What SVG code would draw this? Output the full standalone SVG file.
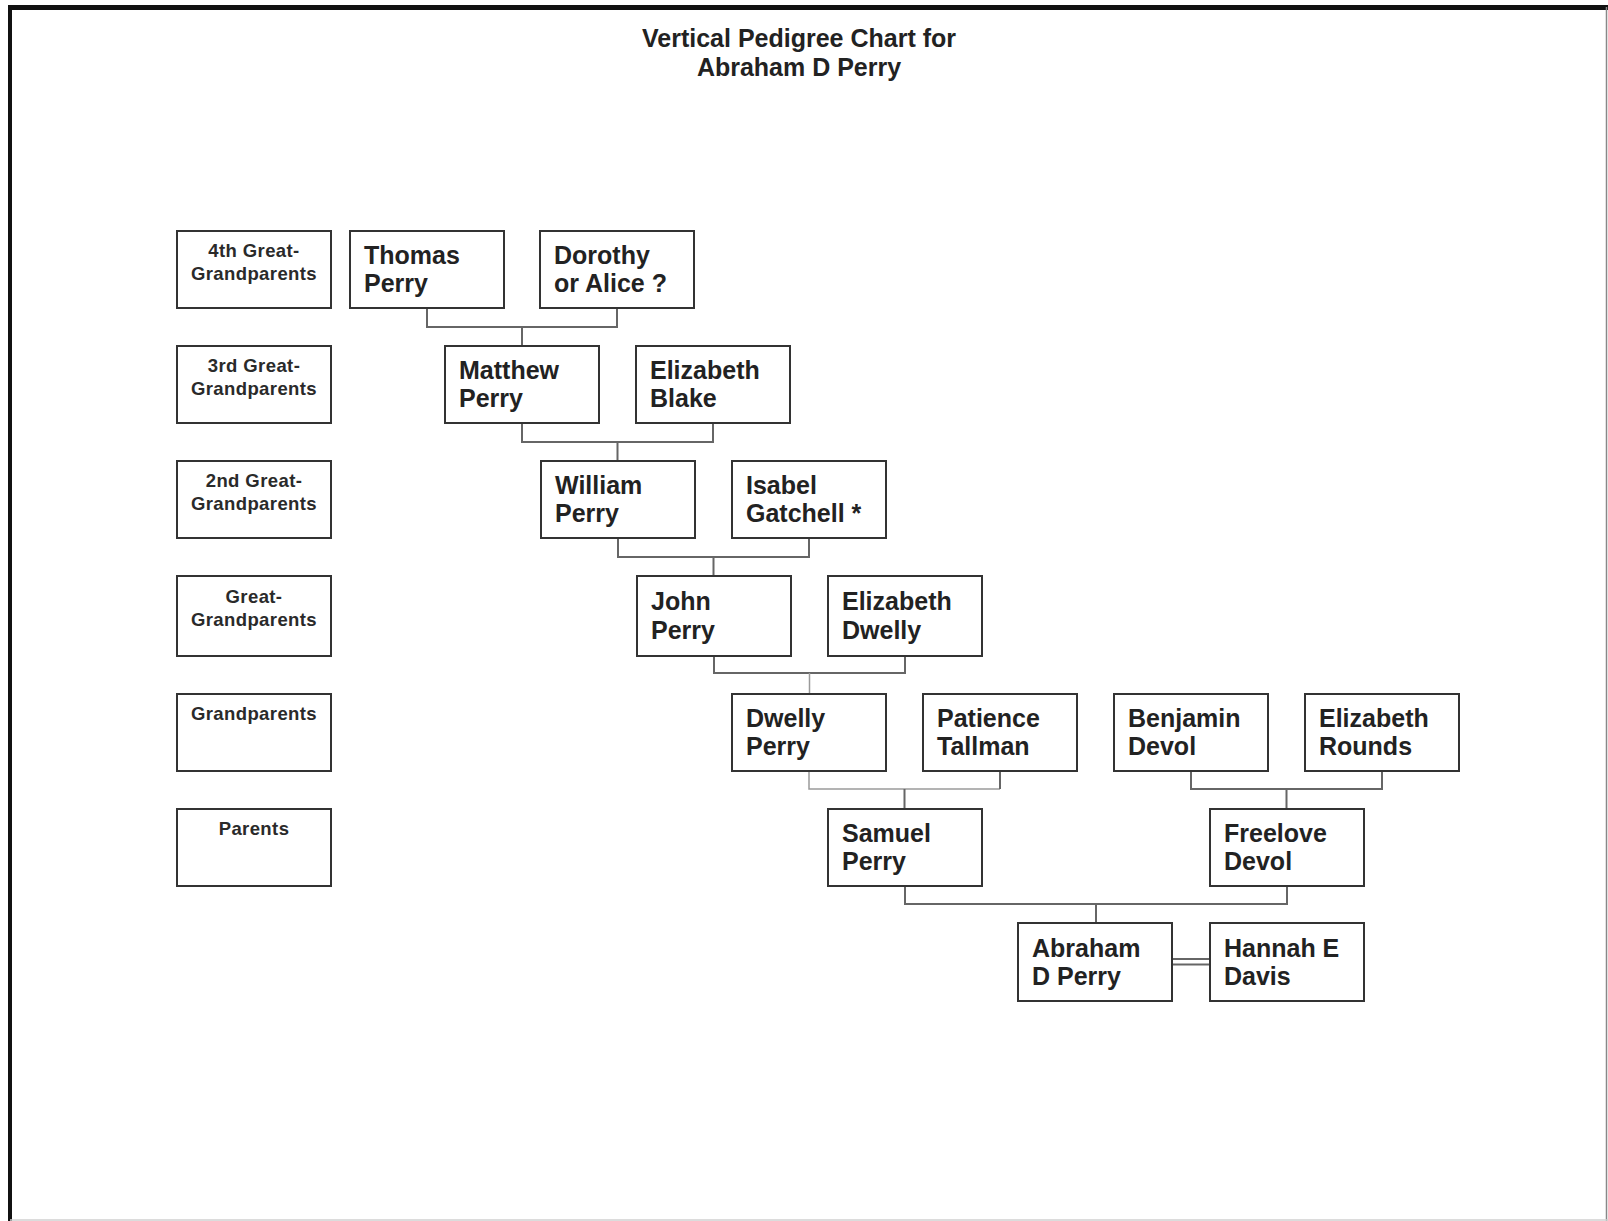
<svg xmlns="http://www.w3.org/2000/svg" width="1608" height="1221" viewBox="0 0 1608 1221">
<style>
  .box { fill: #ffffff; stroke: #333333; stroke-width: 2; }
  .lbl { font-family: "Liberation Sans", Arial, sans-serif; font-weight: bold; font-size: 18.5px; fill: #2a2a2a; text-anchor: middle; letter-spacing: 0.4px; }
  .nm { font-family: "Liberation Sans", Arial, sans-serif; font-weight: bold; font-size: 25px; fill: #222222; }
  .ttl { font-family: "Liberation Sans", Arial, sans-serif; font-weight: bold; font-size: 25px; fill: #222222; text-anchor: middle; }
  .con { fill: none; stroke: #666666; stroke-width: 2; }
  .conl { fill: none; stroke: #9a9a9a; stroke-width: 1.5; }
</style>
<rect x="0" y="0" width="1608" height="1221" fill="#ffffff"/>
<g id="frame">
  <line x1="8" y1="7.5" x2="1608" y2="7.5" stroke="#111111" stroke-width="5"/>
  <line x1="10" y1="5" x2="10" y2="1221" stroke="#111111" stroke-width="4"/>
  <line x1="1606.5" y1="7" x2="1606.5" y2="1221" stroke="#888888" stroke-width="1.5"/>
  <line x1="10" y1="1220" x2="1608" y2="1220" stroke="#d0d0d0" stroke-width="1.5"/>
</g>
<g id="title">
  <text class="ttl" x="799" y="47">Vertical Pedigree Chart for</text>
  <text class="ttl" x="799" y="76">Abraham D Perry</text>
</g>
<g id="generation-labels">
  <g id="label-4th">
    <rect class="box" x="177" y="231" width="154" height="77"/>
    <text class="lbl" x="254" y="257">4th Great-</text>
    <text class="lbl" x="254" y="280">Grandparents</text>
  </g>
  <g id="label-3rd">
    <rect class="box" x="177" y="346" width="154" height="77"/>
    <text class="lbl" x="254" y="372">3rd Great-</text>
    <text class="lbl" x="254" y="395">Grandparents</text>
  </g>
  <g id="label-2nd">
    <rect class="box" x="177" y="461" width="154" height="77"/>
    <text class="lbl" x="254" y="487">2nd Great-</text>
    <text class="lbl" x="254" y="510">Grandparents</text>
  </g>
  <g id="label-great">
    <rect class="box" x="177" y="576" width="154" height="80"/>
    <text class="lbl" x="254" y="603">Great-</text>
    <text class="lbl" x="254" y="626">Grandparents</text>
  </g>
  <g id="label-grand">
    <rect class="box" x="177" y="694" width="154" height="77"/>
    <text class="lbl" x="254" y="720">Grandparents</text>
  </g>
  <g id="label-parents">
    <rect class="box" x="177" y="809" width="154" height="77"/>
    <text class="lbl" x="254" y="835">Parents</text>
  </g>
</g>
<g id="connectors">
  <path class="con" d="M427 308 V327 H617 V308 M522 327 V346"/>
  <path class="con" d="M522 423 V442 H713 V423 M617.5 442 V461"/>
  <path class="con" d="M618 538 V557 H809 V538 M713.5 557 V576"/>
  <path class="con" d="M714 656 V673 H905 V656"/>
  <path class="conl" d="M809.5 673 V694"/>
  <path class="conl" d="M809 771 V789 H1000"/>
  <path class="con" d="M1000 771 V789 M904.5 789 V809"/>
  <path class="con" d="M1191 771 V789 H1382 V771 M1286.5 789 V809"/>
  <path class="con" d="M905 886 V904 H1287 V886 M1096 904 V923" stroke-width="2.5"/>
  <path class="con" d="M1172 959 H1210 M1172 964.5 H1210" stroke="#444444" stroke-width="1.5"/>
</g>
<g id="node-thomas-perry">
  <rect class="box" x="350" y="231" width="154" height="77"/>
  <text class="nm" x="364" y="264">Thomas</text>
  <text class="nm" x="364" y="292">Perry</text>
</g>
<g id="node-dorothy">
  <rect class="box" x="540" y="231" width="154" height="77"/>
  <text class="nm" x="554" y="264">Dorothy</text>
  <text class="nm" x="554" y="292">or Alice ?</text>
</g>
<g id="node-matthew-perry">
  <rect class="box" x="445" y="346" width="154" height="77"/>
  <text class="nm" x="459" y="379">Matthew</text>
  <text class="nm" x="459" y="407">Perry</text>
</g>
<g id="node-elizabeth-blake">
  <rect class="box" x="636" y="346" width="154" height="77"/>
  <text class="nm" x="650" y="379">Elizabeth</text>
  <text class="nm" x="650" y="407">Blake</text>
</g>
<g id="node-william-perry">
  <rect class="box" x="541" y="461" width="154" height="77"/>
  <text class="nm" x="555" y="494">William</text>
  <text class="nm" x="555" y="522">Perry</text>
</g>
<g id="node-isabel-gatchell">
  <rect class="box" x="732" y="461" width="154" height="77"/>
  <text class="nm" x="746" y="494">Isabel</text>
  <text class="nm" x="746" y="522">Gatchell *</text>
</g>
<g id="node-john-perry">
  <rect class="box" x="637" y="576" width="154" height="80"/>
  <text class="nm" x="651" y="610">John</text>
  <text class="nm" x="651" y="639">Perry</text>
</g>
<g id="node-elizabeth-dwelly">
  <rect class="box" x="828" y="576" width="154" height="80"/>
  <text class="nm" x="842" y="610">Elizabeth</text>
  <text class="nm" x="842" y="639">Dwelly</text>
</g>
<g id="node-dwelly-perry">
  <rect class="box" x="732" y="694" width="154" height="77"/>
  <text class="nm" x="746" y="727">Dwelly</text>
  <text class="nm" x="746" y="755">Perry</text>
</g>
<g id="node-patience-tallman">
  <rect class="box" x="923" y="694" width="154" height="77"/>
  <text class="nm" x="937" y="727">Patience</text>
  <text class="nm" x="937" y="755">Tallman</text>
</g>
<g id="node-benjamin-devol">
  <rect class="box" x="1114" y="694" width="154" height="77"/>
  <text class="nm" x="1128" y="727">Benjamin</text>
  <text class="nm" x="1128" y="755">Devol</text>
</g>
<g id="node-elizabeth-rounds">
  <rect class="box" x="1305" y="694" width="154" height="77"/>
  <text class="nm" x="1319" y="727">Elizabeth</text>
  <text class="nm" x="1319" y="755">Rounds</text>
</g>
<g id="node-samuel-perry">
  <rect class="box" x="828" y="809" width="154" height="77"/>
  <text class="nm" x="842" y="842">Samuel</text>
  <text class="nm" x="842" y="870">Perry</text>
</g>
<g id="node-freelove-devol">
  <rect class="box" x="1210" y="809" width="154" height="77"/>
  <text class="nm" x="1224" y="842">Freelove</text>
  <text class="nm" x="1224" y="870">Devol</text>
</g>
<g id="node-abraham-d-perry">
  <rect class="box" x="1018" y="923" width="154" height="78"/>
  <text class="nm" x="1032" y="957">Abraham</text>
  <text class="nm" x="1032" y="985">D Perry</text>
</g>
<g id="node-hannah-e-davis">
  <rect class="box" x="1210" y="923" width="154" height="78"/>
  <text class="nm" x="1224" y="957">Hannah E</text>
  <text class="nm" x="1224" y="985">Davis</text>
</g>
</svg>
